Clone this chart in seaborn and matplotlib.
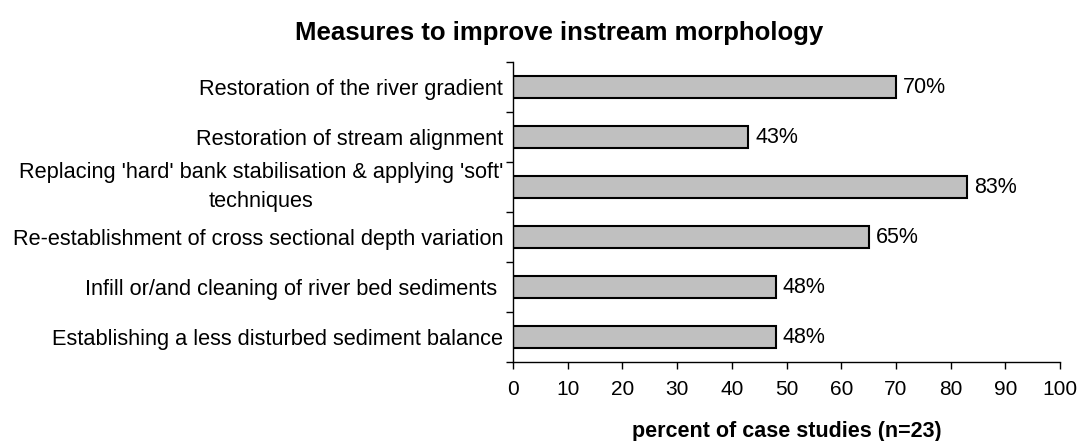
import seaborn as sns
import matplotlib.pyplot as plt
import pandas as pd
import numpy as np

# Datos del grafico
medidas = ["Restoration of the river gradient",
           "Restoration of stream alignment",
           "Replacing 'hard' bank stabilisation & applying 'soft'\ntechniques",
           "Re-establishment of cross sectional depth variation",
           "Infill or/and cleaning of river bed sediments ",
           "Establishing a less disturbed sediment balance"]
porcentaje = [70, 43, 83, 65, 48, 48]
xticks = [0, 10, 20, 30, 40, 50, 60, 70, 80, 90, 100]

df = pd.DataFrame({'medida': medidas, 'pct': porcentaje})

sns.set_style('white')
plt.rcParams['font.family'] = ['Liberation Sans', 'DejaVu Sans']
plt.rcParams['text.color'] = 'black'
plt.rcParams['xtick.color'] = 'black'
plt.rcParams['ytick.color'] = 'black'
plt.rcParams['axes.labelcolor'] = 'black'

fig = plt.figure(figsize=(10.82, 4.41), dpi=100)
ax = fig.add_axes([0.4741, 0.179, 0.9797 - 0.4741, 0.8594 - 0.179])

sns.barplot(x='pct', y='medida', data=df, orient='h', width=0.44,
            color='#C0C0C0', edgecolor='black', linewidth=1.5, saturation=1, ax=ax)

ax.bar_label(ax.containers[0], labels=[f'{v}%' for v in porcentaje],
             padding=5, fontsize=15.5, color='black')

ax.set_xlim(0, 100)
ax.set_xticks(xticks)
ax.set_xticklabels([str(t) for t in xticks], fontsize=15)
ax.set_ylim(5.5, -0.5)
ax.set_yticks(range(len(medidas)))
ax.set_yticklabels(medidas, fontsize=15.7, multialignment='center', linespacing=1.55)
# la etiqueta de dos lineas se centra en su bloque
for lab in ax.get_yticklabels():
    if '\n' in lab.get_text():
        lab.set_va('center')
ax.set_yticks(np.arange(-0.5, len(medidas), 1), minor=True)
ax.tick_params(axis='y', which='major', length=0, pad=7)
ax.tick_params(axis='y', which='minor', length=5, width=1, color='black', direction='out', left=True)
ax.tick_params(axis='x', which='major', length=5, width=1, color='black', direction='out', bottom=True, pad=8)

for s in ['top', 'right']:
    ax.spines[s].set_visible(False)
for s in ['left', 'bottom']:
    ax.spines[s].set_color('black')
    ax.spines[s].set_linewidth(1)

ax.set_ylabel('')
ax.set_xlabel('percent of case studies (n=23)', fontsize=15.5, fontweight='bold', labelpad=16)
fig.text(559 / 1082, 1 - 33 / 441, 'Measures to improve instream morphology',
         fontsize=18.5, fontweight='bold', ha='center', va='center')

fig.savefig('out.png', dpi=100)
